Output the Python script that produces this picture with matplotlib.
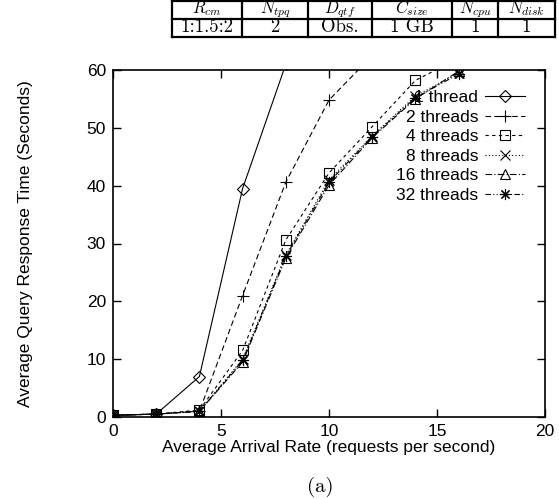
import matplotlib
matplotlib.use("Agg")
import matplotlib.pyplot as plt

plt.rcParams['font.family'] = ['Liberation Sans', 'DejaVu Sans']
plt.rcParams['mathtext.fontset'] = 'cm'

# taxa de chegada (requisições por segundo)
taxa = [0, 2, 4, 6, 8, 10, 12, 14, 16]

t1 = [0.3, 0.5, 7.0, 39.5, 61.0]
t2 = [0.3, 0.5, 1.0, 21.0, 40.6, 54.8, 62.5]
t4 = [0.3, 0.5, 1.2, 11.5, 30.6, 42.2, 50.2, 58.2, 62.0]
t8 = [0.3, 0.5, 1.0, 10.0, 28.0, 41.0, 48.6, 55.5, 59.5]
t16 = [0.3, 0.5, 1.0, 9.5, 27.5, 40.1, 48.3, 55.0, 59.8]
t32 = [0.3, 0.5, 1.0, 9.8, 27.8, 40.6, 48.5, 55.2, 59.3]

series = [
    ("1 thread", t1, '-', 'D', 6),
    ("2 threads", t2, (0, (5, 3)), '+', 8),
    ("4 threads", t4, (0, (3, 3)), 's', 7),
    ("8 threads", t8, (0, (1, 2)), 'x', 7),
    ("16 threads", t16, (0, (6, 2, 1, 2)), '^', 7),
    ("32 threads", t32, (0, (5, 2, 1, 2, 1, 2)), (8, 2, 0), 8),
]

# tabela de parâmetros no topo
cab = [r'$R_{cm}$', r'$N_{tpq}$', r'$D_{qtf}$', r'$C_{size}$', r'$N_{cpu}$', r'$N_{disk}$']
vals = ['1:1.5:2', '2', 'Obs.', '1 GB', '1', '1']

W, H = 559, 499
fig = plt.figure(figsize=(W / 100, H / 100), dpi=100)

ax = fig.add_axes([113 / W, 1 - 417 / H, (545 - 113) / W, (417 - 70) / H])
for nome, y, ls, mk, ms in series:
    ax.plot(taxa[:len(y)], y, color='black', lw=0.8, linestyle=ls, marker=mk,
            markersize=ms, markerfacecolor='none', markeredgecolor='black',
            markeredgewidth=0.8, label=nome)

ax.set_xlim(0, 20)
ax.set_ylim(0, 60)
ax.set_xticks([0, 5, 10, 15, 20])
ax.set_yticks([0, 10, 20, 30, 40, 50, 60])
ax.tick_params(direction='in', length=6, width=1, top=True, right=True,
               labelsize=12.5, pad=5)
for s in ax.spines.values():
    s.set_linewidth(1.2)
ax.set_xlabel("Average Arrival Rate (requests per second)", fontsize=12.5, labelpad=1)
ax.set_ylabel("Average Query Response Time (Seconds)", fontsize=12.5, labelpad=39)

ax.legend(loc='upper right', bbox_to_anchor=((525 - 113) / 432, (417 - 90) / 347),
          frameon=False, markerfirst=False, fontsize=12.5, handlelength=2.3,
          handletextpad=0.4, labelspacing=0.25, borderpad=0, borderaxespad=0)

# tabela desenhada à mão
tx0, tx1 = 172, 555
tab = fig.add_axes([tx0 / W, 1 - 37 / H, (tx1 - tx0) / W, 36 / H])
tab.set_xlim(tx0, tx1)
tab.set_ylim(37, 1)
tab.axis('off')
divs = [172, 242, 308, 372, 452, 498, 555]
for xd in divs:
    tab.plot([xd, xd], [1, 37], color='black', lw=1.6, clip_on=False)
for yd in [1, 19, 37]:
    tab.plot([tx0, tx1], [yd, yd], color='black', lw=1.6, clip_on=False)
for i in range(len(cab)):
    xc = (divs[i] + divs[i + 1]) / 2
    tab.text(xc, 13.5, cab[i], ha='center', va='baseline', fontsize=12)
    tab.text(xc, 32.5, vals[i], ha='center', va='baseline', fontsize=13.5,
             family='cmr10')

fig.text(320 / W, 1 - 487 / H, '(a)', ha='center', va='center', fontsize=15,
         family='cmr10')

fig.savefig('out.png', dpi=100)
